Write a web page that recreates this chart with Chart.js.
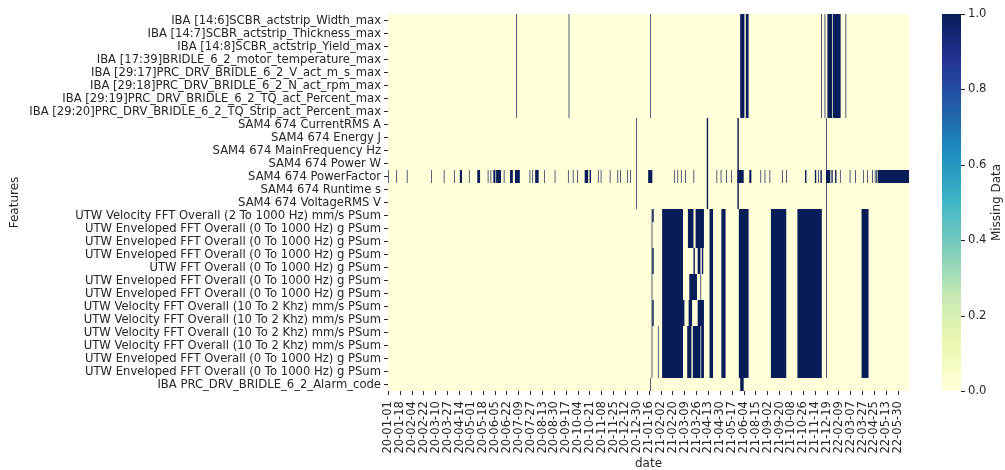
<!DOCTYPE html>
<html>
<head>
<meta charset="utf-8">
<script src="https://cdn.jsdelivr.net/npm/chart.js@4/dist/chart.umd.min.js"></script>
<style>
  body { margin: 0; background: #ffffff; }
  canvas { display: block; }
</style>
</head>
<body>
<canvas id="missingChart" width="1005" height="470"></canvas>
<script>
// rows of the heatmap (one per feature)
const features = [
  "IBA [14:6]SCBR_actstrip_Width_max",
  "IBA [14:7]SCBR_actstrip_Thickness_max",
  "IBA [14:8]SCBR_actstrip_Yield_max",
  "IBA [17:39]BRIDLE_6_2_motor_temperature_max",
  "IBA [29:17]PRC_DRV_BRIDLE_6_2_V_act_m_s_max",
  "IBA [29:18]PRC_DRV_BRIDLE_6_2_N_act_rpm_max",
  "IBA [29:19]PRC_DRV_BRIDLE_6_2_TQ_act_Percent_max",
  "IBA [29:20]PRC_DRV_BRIDLE_6_2_TQ_Strip_act_Percent_max",
  "SAM4 674 CurrentRMS A",
  "SAM4 674 Energy J",
  "SAM4 674 MainFrequency Hz",
  "SAM4 674 Power W",
  "SAM4 674 PowerFactor",
  "SAM4 674 Runtime s",
  "SAM4 674 VoltageRMS V",
  "UTW Velocity FFT Overall (2 To 1000 Hz) mm/s PSum",
  "UTW Enveloped FFT Overall (0 To 1000 Hz) g PSum",
  "UTW Enveloped FFT Overall (0 To 1000 Hz) g PSum",
  "UTW Enveloped FFT Overall (0 To 1000 Hz) g PSum",
  "UTW FFT Overall (0 To 1000 Hz) g PSum",
  "UTW Enveloped FFT Overall (0 To 1000 Hz) g PSum",
  "UTW Enveloped FFT Overall (0 To 1000 Hz) g PSum",
  "UTW Velocity FFT Overall (10 To 2 Khz) mm/s PSum",
  "UTW Velocity FFT Overall (10 To 2 Khz) mm/s PSum",
  "UTW Velocity FFT Overall (10 To 2 Khz) mm/s PSum",
  "UTW Velocity FFT Overall (10 To 2 Khz) mm/s PSum",
  "UTW Enveloped FFT Overall (0 To 1000 Hz) g PSum",
  "UTW Enveloped FFT Overall (0 To 1000 Hz) g PSum",
  "IBA PRC_DRV_BRIDLE_6_2_Alarm_code"
];

// date index: number of columns and one label every tickStep columns
const nCols = 747;
const tickStep = 17;
const dateTicks = [
  "20-01-01", "20-01-18", "20-02-04", "20-02-22", "20-03-10", "20-03-27",
  "20-04-14", "20-05-01", "20-05-18", "20-06-05", "20-06-22", "20-07-09",
  "20-07-27", "20-08-13", "20-08-30", "20-09-17", "20-10-04", "20-10-21",
  "20-11-08", "20-11-25", "20-12-12", "20-12-30", "21-01-16", "21-02-02",
  "21-02-20", "21-03-09", "21-03-26", "21-04-13", "21-04-30", "21-05-17",
  "21-06-04", "21-08-15", "21-09-02", "21-09-20", "21-10-08", "21-10-26",
  "21-11-14", "21-12-19", "22-02-09", "22-03-07", "22-03-27", "22-04-25",
  "22-05-13", "22-05-30"
];

// missing runs [firstCol, lastCol] per group of rows
const ibaRuns = [[184, 184], [259, 259], [376, 376], [505, 510], [513, 516],
  [621, 621], [626, 626], [630, 636], [638, 648], [656, 656]];
const samRuns = [[356, 356], [457, 458], [501, 502], [628, 628]];
const powerFactorRuns = [[0, 0], [12, 12], [27, 27], [62, 62], [80, 80], [95, 95],
  [103, 105], [116, 116], [128, 131], [143, 143], [147, 147], [151, 153], [155, 161],
  [166, 166], [175, 178], [182, 188], [203, 203], [207, 207], [211, 215], [224, 224],
  [239, 239], [258, 258], [265, 265], [271, 271], [282, 286], [289, 290], [301, 301],
  [305, 305], [318, 318], [329, 329], [333, 333], [343, 343], [347, 347], [373, 378],
  [410, 410], [415, 415], [420, 420], [426, 426], [438, 438], [471, 471], [477, 477],
  [485, 485], [492, 492], [501, 509], [518, 520], [534, 534], [540, 540], [547, 547],
  [565, 565], [571, 571], [598, 599], [612, 613], [617, 617], [620, 621], [628, 633],
  [635, 635], [637, 637], [641, 642], [648, 648], [662, 662], [670, 670], [681, 681],
  [687, 687], [694, 694], [698, 698], [700, 700], [702, 746]];
const utwRuns = [[378, 378], [393, 422], [461, 465], [478, 483], [503, 516],
  [549, 570], [587, 621], [628, 628], [679, 688]];
const alarmRuns = [[376, 376], [505, 509]];

// [firstRow, lastRow, runs]
const rowGroups = [
  [0, 7, ibaRuns],
  [8, 14, samRuns],
  [12, 12, powerFactorRuns],
  [15, 27, utwRuns],
  [28, 28, alarmRuns]
];

// smaller pieces inside the UTW block: [firstRow, lastRow, firstCol, lastCol]
const utwPieces = [
  [15, 15, 379, 380], [18, 19, 379, 380], [22, 23, 379, 380],
  [24, 27, 387, 387], [22, 23, 423, 424],
  [15, 17, 430, 437], [15, 17, 441, 452],
  [18, 19, 438, 439], [18, 19, 444, 447], [18, 19, 450, 451],
  [20, 21, 432, 442], [20, 21, 448, 448],
  [22, 23, 431, 435], [22, 23, 444, 452],
  [24, 27, 429, 434], [24, 27, 437, 447], [24, 27, 449, 452]
];

// colour bar
const cmapColors = ["#ffffd9", "#edf8b1", "#c7e9b4", "#7fcdbb", "#41b6c4",
  "#1d91c0", "#225ea8", "#253494", "#081d58"];
const cbarTicks = [0, 0.2, 0.4, 0.6, 0.8, 1.0];

const textColor = "#262626";
const fontFamily = "'DejaVu Sans', sans-serif";
const fontSize = 11.6;

// one list of runs per row, then dataset k holds the k-th run of every row
function buildMissingDatasets() {
  const rows = features.map(() => []);
  rowGroups.forEach(([r0, r1, runs]) => {
    for (let r = r0; r <= r1; r++) {
      runs.forEach((run) => rows[r].push(run));
    }
  });
  utwPieces.forEach(([r0, r1, c0, c1]) => {
    for (let r = r0; r <= r1; r++) rows[r].push([c0, c1]);
  });
  const most = Math.max(...rows.map((r) => r.length));
  const datasets = [];
  for (let k = 0; k < most; k++) {
    datasets.push({
      label: "missing " + k,
      data: rows.map((r) => (r[k] ? [r[k][0], r[k][1] + 1] : null)),
      backgroundColor: "#081d58",
      grouped: false,
      barPercentage: 1,
      categoryPercentage: 1,
      inflateAmount: 0,
      order: 0
    });
  }
  return datasets;
}

const colorBar = {
  id: "colorBar",
  afterDraw(chart) {
    const ctx = chart.ctx;
    const top = chart.chartArea.top;
    const bottom = chart.chartArea.bottom;
    const left = 942;
    const width = 19;
    const grad = ctx.createLinearGradient(0, bottom, 0, top);
    cmapColors.forEach((c, i) => grad.addColorStop(i / (cmapColors.length - 1), c));
    ctx.save();
    ctx.fillStyle = grad;
    ctx.fillRect(left, top, width, bottom - top);
    ctx.strokeStyle = textColor;
    ctx.fillStyle = textColor;
    ctx.lineWidth = 1;
    ctx.font = fontSize + "px " + fontFamily;
    ctx.textAlign = "left";
    ctx.textBaseline = "middle";
    cbarTicks.forEach((t) => {
      const y = bottom - t * (bottom - top);
      ctx.beginPath();
      ctx.moveTo(left + width, Math.round(y) + 0.5);
      ctx.lineTo(left + width + 4, Math.round(y) + 0.5);
      ctx.stroke();
      ctx.fillText(t.toFixed(1), left + width + 7, y);
    });
    ctx.translate(997, (top + bottom) / 2);
    ctx.rotate(-Math.PI / 2);
    ctx.textAlign = "center";
    ctx.font = "12px " + fontFamily;
    ctx.fillText("Missing Data", 0, 0);
    ctx.restore();
  }
};

const present = {
  label: "present",
  data: features.map(() => [0, nCols]),
  backgroundColor: "#ffffd9",
  grouped: false,
  barPercentage: 1,
  categoryPercentage: 1,
  inflateAmount: 0,
  order: 1
};

const ctx = document.getElementById("missingChart").getContext("2d");
new Chart(ctx, {
  type: "bar",
  data: {
    labels: features,
    datasets: buildMissingDatasets().concat([present])
  },
  options: {
    indexAxis: "y",
    responsive: false,
    animation: false,
    layout: { padding: { top: 14, right: 96, left: 0, bottom: 0 } },
    plugins: {
      legend: { display: false },
      tooltip: { enabled: false }
    },
    scales: {
      x: {
        type: "linear",
        min: 0,
        max: nCols,
        afterBuildTicks: (scale) => {
          scale.ticks = dateTicks.map((d, i) => ({ value: i * tickStep + 0.5 }));
        },
        afterFit: (scale) => { scale.height = 79; },
        ticks: {
          autoSkip: false,
          minRotation: 90,
          maxRotation: 90,
          padding: 6,
          color: textColor,
          font: { family: fontFamily, size: fontSize },
          callback: (v, i) => dateTicks[i]
        },
        grid: { drawOnChartArea: false, tickLength: 4, color: textColor },
        border: { display: false },
        title: {
          display: true,
          text: "date",
          color: textColor,
          font: { family: fontFamily, size: 12, lineHeight: 1 },
          padding: { top: 0, bottom: 0 }
        }
      },
      y: {
        type: "category",
        afterFit: (scale) => { scale.width = 388; },
        ticks: {
          autoSkip: false,
          padding: 3,
          color: textColor,
          font: { family: fontFamily, size: fontSize }
        },
        grid: { drawOnChartArea: false, offset: false, tickLength: 4, color: textColor },
        border: { display: false },
        title: {
          display: true,
          text: "Features",
          color: textColor,
          font: { family: fontFamily, size: 12 },
          padding: { top: 8, bottom: 0 }
        }
      }
    }
  },
  plugins: [colorBar]
});
</script>
</body>
</html>
